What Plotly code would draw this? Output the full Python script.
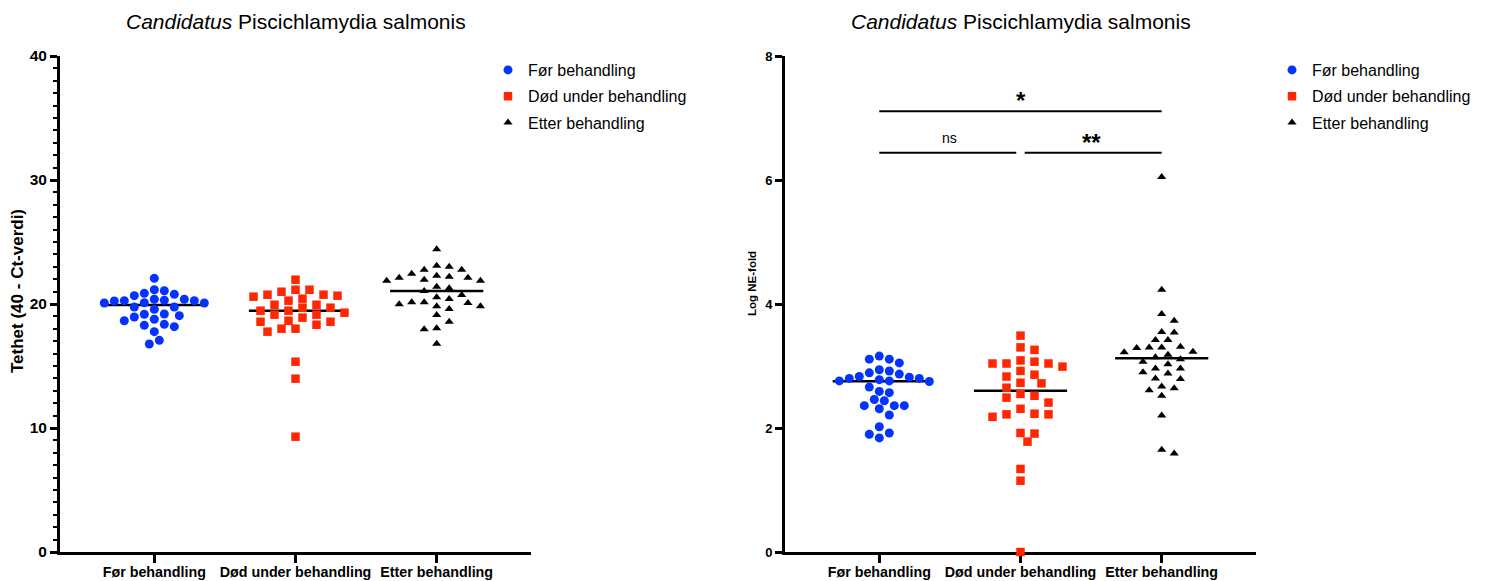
import numpy as np
import plotly.graph_objects as go

# ---------------------------------------------------------------- data
categories = ["Før behandling", "Død under behandling", "Etter behandling"]
legend_names = ["Før behandling", "Død under behandling", "Etter behandling"]

# Tethet (40 - Ct-verdi)
tethet_for = [22.07, 21.15, 21.07, 20.86, 20.78, 20.67, 20.38, 20.30, 20.38, 20.27,
              20.27, 20.24, 20.10, 20.08, 20.08, 19.76, 19.76, 19.57, 19.17, 19.19,
              19.06, 18.95, 18.77, 18.65, 18.36, 18.28, 18.17, 17.77, 17.07, 16.77]
tethet_dod = [20.59, 19.70, 18.65, 20.67, 19.94, 19.14, 18.33, 20.75, 19.94, 19.14,
              18.01, 21.96, 21.15, 19.46, 18.57, 17.77, 15.35, 13.98, 9.30, 20.75,
              19.46, 18.01, 20.99, 20.27, 19.30, 18.57, 21.15, 20.43, 19.70, 18.90]
tethet_etter = [24.41, 23.01, 22.77, 22.12, 21.88, 21.88, 22.12, 22.44, 23.09, 22.20,
                22.77, 21.96, 22.28, 21.05, 21.27, 20.54, 21.40, 20.73, 20.14, 20.14,
                19.81, 19.98, 19.81, 19.11, 19.60, 20.08, 20.40, 18.57, 18.04, 17.96,
                16.80]

# Log NE-fold
nefold_for = [2.94, 2.80, 2.82, 3.05, 2.83, 2.46, 3.11, 2.75, 2.57, 2.44,
              2.31, 2.02, 1.84, 3.11, 2.80, 2.66, 2.36, 2.21, 1.92, 2.87,
              2.36, 1.90, 3.16, 2.78, 2.59, 2.36, 2.89, 2.76, 2.92, 2.76]
nefold_dod = [3.49, 3.30, 3.26, 3.04, 3.09, 3.04, 3.07, 2.92, 2.99, 3.04,
              2.83, 2.86, 2.72, 2.73, 2.65, 2.55, 2.41, 2.49, 2.52, 2.31,
              2.22, 2.22, 2.18, 2.23, 1.91, 1.92, 1.78, 1.34, 1.15, 0.00]
nefold_etter = [6.05, 4.23, 3.84, 3.73, 3.55, 3.54, 3.42, 3.42, 3.30, 3.29,
                3.31, 3.30, 3.23, 3.22, 3.18, 3.11, 3.07, 3.14, 3.03, 2.96,
                2.96, 2.88, 2.90, 2.80, 2.79, 2.64, 2.67, 2.61, 2.52, 2.20,
                1.59, 1.65]

# significance brackets on the NE-fold panel: (from, to, label)
sig_brackets = [(0, 2, "*"), (0, 1, "ns"), (1, 2, "**")]

# ---------------------------------------------------------------- layout constants
W, H = 1487, 581
FONT = "Arial, 'Liberation Sans', sans-serif"
BLUE, RED, BLACK = "#0433FF", "#FF2600", "#000000"

X_RANGE = [-0.668, 2.668]
X1_DOM = [60 / W, 531 / W]
X2_DOM = [785 / W, 1256 / W]
Y_DOM = [29 / H, 525 / H]
Y1_RANGE = [0, 40]
Y2_RANGE = [0, 8]

styles = [
    dict(color=BLUE, symbol="circle", size=9, col_px=10.0, row_px=9.0),
    dict(color=RED, symbol="square", size=8.5, col_px=14.0, row_px=9.0),
    dict(color=BLACK, symbol="triangle-up", size=8, col_px=12.5, row_px=8.5),
]

px_per_cat = W * (X1_DOM[1] - X1_DOM[0]) / (X_RANGE[1] - X_RANGE[0])


def swarm_offsets(values, px_per_unit, col_px, row_px):
    """Greedy beeswarm: each point takes the closest free half-column slot."""
    y = np.asarray(values, float) * px_per_unit
    order = np.argsort(-y, kind="stable")
    cands = [0] + [s * j for j in range(1, 60) for s in (1, -1)]
    placed = []
    offs = np.zeros(len(y))
    for i in order:
        for c in cands:
            x = c * col_px / 2.0
            if all(((x - px) / col_px) ** 2 + ((y[i] - py) / row_px) ** 2 >= 1.0
                   for px, py in placed):
                break
        placed.append((x, y[i]))
        offs[i] = x / px_per_cat
    return offs


fig = go.Figure()


def add_panel(groups, xa, ya, yrange, ydom, legend):
    px_per_unit = H * (ydom[1] - ydom[0]) / (yrange[1] - yrange[0])
    for i, (vals, st, name) in enumerate(zip(groups, styles, legend_names)):
        med = float(np.median(vals))
        fig.add_trace(go.Scatter(
            x=[i - 0.33, i + 0.33], y=[med, med], mode="lines",
            line=dict(color="black", width=2.5), xaxis=xa, yaxis=ya,
            showlegend=False, hoverinfo="skip"))
        offs = swarm_offsets(vals, px_per_unit, st["col_px"], st["row_px"])
        fig.add_trace(go.Scatter(
            x=i + offs, y=vals, mode="markers", name=name,
            legendgroup=f"{legend}-{i}",
            marker=dict(color=st["color"], symbol=st["symbol"], size=st["size"],
                        line=dict(width=0)),
            xaxis=xa, yaxis=ya, legend=legend, cliponaxis=False))


add_panel([tethet_for, tethet_dod, tethet_etter], "x", "y", Y1_RANGE, Y_DOM, "legend")
add_panel([nefold_for, nefold_dod, nefold_etter], "x2", "y2", Y2_RANGE, Y_DOM, "legend2")

# significance brackets
bracket_y = {(0, 2): 7.11, (0, 1): 6.44, (1, 2): 6.44}
gap = 0.03
for a, b, label in sig_brackets:
    yb = bracket_y[(a, b)]
    x0 = a + (gap if a == 1 else 0)
    x1 = b - (gap if b == 1 else 0)
    fig.add_shape(type="line", xref="x2", yref="y2", x0=x0, x1=x1, y0=yb, y1=yb,
                  line=dict(color="black", width=2))
    bold = label != "ns"
    fig.add_annotation(
        xref="x2", yref="y2", x=(a + b) / 2, y=yb, yshift=-5 if bold else 5,
        text=f"<b>{label}</b>" if bold else label, showarrow=False, yanchor="bottom",
        font=dict(family=FONT, size=24 if bold else 14, color="black"))

# titles and y-axis titles
for xc in [(X1_DOM[0] + X1_DOM[1]) / 2, (X2_DOM[0] + X2_DOM[1]) / 2]:
    fig.add_annotation(xref="paper", yref="paper", x=xc, y=1 - 22 / H,
                       text="<i>Candidatus</i> Piscichlamydia salmonis",
                       showarrow=False, xanchor="center", yanchor="middle",
                       font=dict(family=FONT, size=21, color="black"))
for xp, yp, txt, fs in [(17 / W, 291, "Tethet (40 - Ct-verdi)", 17),
                        (752 / W, 284, "Log NE-fold", 11.5)]:
    fig.add_annotation(xref="paper", yref="paper", x=xp, y=1 - yp / H,
                       text=f"<b>{txt}</b>", textangle=-90, showarrow=False,
                       xanchor="center", yanchor="middle",
                       font=dict(family=FONT, size=fs, color="black"))

xaxis_common = dict(
    range=X_RANGE, tickvals=[0, 1, 2], ticktext=[f"<b>{c}</b>" for c in categories],
    showline=True, linecolor="black", linewidth=3, ticks="outside", ticklen=8,
    tickwidth=3, tickcolor="black", showgrid=False, zeroline=False,
    tickfont=dict(family=FONT, size=14.3, color="black"), layer="below traces",
    ticklabelstandoff=-3, automargin=False, fixedrange=True)
yaxis_common = dict(
    showline=True, linecolor="black", linewidth=3, ticks="outside", ticklen=7,
    tickwidth=3, tickcolor="black", showgrid=False, zeroline=False,
    layer="below traces", automargin=False,
    tickprefix="<b>", ticksuffix="</b>", domain=Y_DOM)

legend_common = dict(y=1 - 53 / H, xanchor="left", yanchor="top",
                     font=dict(family=FONT, size=16, color="black"),
                     tracegroupgap=2.5, bgcolor="rgba(0,0,0,0)")

fig.update_layout(
    width=W, height=H, margin=dict(l=0, r=0, t=0, b=0, pad=0, autoexpand=False),
    paper_bgcolor="white", plot_bgcolor="white",
    font=dict(family=FONT, color="black"),
    xaxis=dict(xaxis_common, domain=X1_DOM, anchor="y"),
    xaxis2=dict(xaxis_common, domain=X2_DOM, anchor="y2"),
    yaxis=dict(yaxis_common, range=Y1_RANGE, dtick=10, anchor="x",
               tickfont=dict(family=FONT, size=15.5, color="black"),
               minor=dict(dtick=1, ticks="outside", ticklen=4, tickwidth=2,
                          tickcolor="black", showgrid=False)),
    yaxis2=dict(yaxis_common, range=Y2_RANGE, dtick=2, anchor="x2",
                tickfont=dict(family=FONT, size=13, color="black")),
    legend=dict(legend_common, x=488 / W),
    legend2=dict(legend_common, x=1272 / W),
    showlegend=True,
)

fig.write_html("out.html")
